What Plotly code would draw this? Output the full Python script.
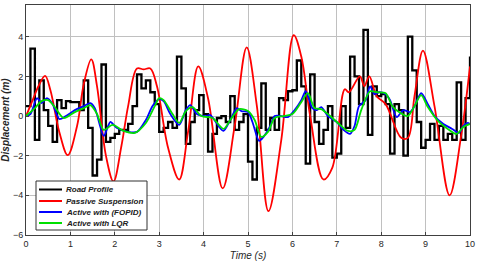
import plotly.graph_objects as go

# Road profile: step values, each held for 0.1 s
road_vals = [0.5, 3.4, -1.2, 1.8, 0.3, -0.5, -1.3, 0.8, 0.4, 0.75,
             0.7, 0.7, 0.3, 1.8, -0.6, -3.0, -2.2, 2.6, -1.3, -1.1,
             -0.9, -0.7, -0.7, -0.4, 0.5, 2.1, 1.4, 1.8, 1.2, 0.6,
             -0.8, -0.6, -0.3, -0.6, 3.0, 1.4, -1.4, -0.3, 0.3, 1.05,
             0.1, -1.8, -0.9, -0.1, 0.0, -0.3, 1.0, -0.7, -0.3, 0.1,
             -2.3, -3.2, -0.6, 1.65, -0.7, -0.1, -0.7, 0.9, 0.8, 1.25,
             1.3, 2.8, 1.5, -2.4, 2.1, -0.3, -1.4, -0.7, 0.5, -2.1,
             -1.9, 0.5, -0.6, 3.0, 2.0, 0.6, 4.35, -0.95, 1.5, 1.0,
             1.1, 0.6, -1.9, 0.6, 0.3, -2.0, 4.0, 2.3, -0.3, -1.6,
             -1.2, -0.4, -1.2, -0.5, -1.2, -0.9, -1.2, 1.7, -1.2, 0.9]
road_t = [0.1 * i for i in range(len(road_vals))] + [10.0]
road_y = road_vals + [3.0]

passive_t = [0, 0.15, 0.28, 0.43, 0.55, 0.75, 0.94, 1.15, 1.3, 1.47, 1.6, 1.8, 1.97, 2.15, 2.3, 2.5, 2.65, 2.8, 2.95, 3.2, 3.45, 3.65, 3.88, 4.1, 4.43, 4.7, 4.97, 5.2, 5.46, 5.75, 6.03, 6.2, 6.4, 6.7, 6.9, 7.18, 7.27, 7.52, 7.62, 7.73, 7.9, 8.1, 8.45, 8.6, 8.75, 8.94, 9.2, 9.54, 9.8, 10.0]
passive_y = [0, 0.8, 1.5, 2.02, 1.3, -0.8, -1.97, -0.5, 1.6, 2.86, 1.5, -2.0, -3.3, -1.5, 0.5, 2.4, 2.35, 2.4, 1.5, -1.6, -3.2, -0.8, 2.5, 0.9, -3.65, -0.5, 3.46, 0.5, -4.8, -1.2, 4.08, 3.0, 0.0, -3.2, -2.6, 1.35, 1.2, 2.0, 1.5, 2.0, 1.0, 0.6, -1.1, -1.1, 1.0, 3.3, 0.5, -4.0, -1.0, 2.5]

fopid_t = [0, 0.1, 0.25, 0.35, 0.47, 0.6, 0.75, 0.9, 1.1, 1.3, 1.45, 1.55, 1.75, 1.85, 1.9, 2.05, 2.3, 2.5, 2.7, 2.85, 3.0, 3.1, 3.25, 3.45, 3.6, 3.7, 3.85, 4.05, 4.15, 4.35, 4.45, 4.6, 4.75, 4.85, 5.0, 5.1, 5.25, 5.35, 5.5, 5.6, 5.75, 5.9, 6.05, 6.2, 6.3, 6.45, 6.55, 6.65, 6.8, 7.0, 7.15, 7.3, 7.4, 7.5, 7.65, 7.75, 7.85, 7.95, 8.1, 8.2, 8.35, 8.5, 8.65, 8.75, 8.9, 9.05, 9.2, 9.4, 9.6, 9.75, 9.85, 9.95, 10.0]
fopid_y = [0, 0.1, 0.9, 0.65, 0.9, 0.6, -0.15, 0.0, 0.3, 0.5, 0.65, 0.4, -1.0, -0.5, -0.3, -0.6, -0.8, -0.8, -0.2, 0.5, 0.85, 0.75, 0.1, -0.45, 0.3, 0.55, 0.1, 0.0, 0.05, -0.55, -0.75, -0.2, 0.4, 0.25, 0.2, -0.3, -1.25, -1.05, -0.5, 0.0, 0.0, -0.05, 0.3, 0.8, 1.25, 0.4, 0.3, 0.45, 0.0, -0.3, -0.7, -0.9, -0.5, 0.5, 0.8, 1.5, 1.1, 1.2, 1.1, 0.8, -0.05, 0.3, 0.2, 0.5, 1.15, 0.6, 0.0, -0.4, -0.65, -0.85, -0.5, -0.35, -0.4]

lqr_t = [0, 0.2, 0.35, 0.5, 0.65, 0.85, 1.1, 1.3, 1.45, 1.6, 1.75, 1.95, 2.2, 2.45, 2.7, 2.9, 3.0, 3.1, 3.3, 3.45, 3.6, 3.75, 3.95, 4.2, 4.45, 4.6, 4.8, 5.0, 5.15, 5.3, 5.45, 5.6, 5.8, 6.0, 6.2, 6.35, 6.5, 6.65, 6.85, 7.05, 7.25, 7.4, 7.55, 7.75, 7.9, 8.1, 8.25, 8.4, 8.6, 8.75, 8.9, 9.05, 9.3, 9.5, 9.7, 9.85, 10.0]
lqr_y = [0, 0.4, 0.75, 0.8, 0.45, -0.1, 0.2, 0.4, 0.55, 0.1, -0.7, -0.45, -0.75, -0.85, -0.35, 0.5, 0.9, 0.8, 0.1, -0.35, 0.25, 0.45, 0.0, -0.1, -0.65, -0.2, 0.35, 0.25, -0.2, -1.05, -0.8, -0.1, 0.0, 0.1, 0.7, 1.15, 0.4, 0.35, 0.0, -0.4, -0.75, -0.7, 0.3, 1.25, 1.2, 1.15, 0.5, 0.2, 0.0, 0.5, 1.05, 0.45, -0.3, -0.65, -0.9, -0.55, -0.4]

x_ticks = list(range(0, 11))
y_ticks = [-6, -4, -2, 0, 2, 4]

series_names = ["Road Profile", "Passive Suspension", "Active with (FOPID)", "Active with LQR"]
series_colors = ["black", "#ff0000", "#0000ff", "#00e000"]

FONT = "Liberation Sans, Arial, sans-serif"

fig = go.Figure()
fig.add_trace(go.Scatter(x=road_t, y=road_y, mode="lines", name=series_names[0],
                         line=dict(color=series_colors[0], width=2.3, shape="hv")))
fig.add_trace(go.Scatter(x=passive_t, y=passive_y, mode="lines", name=series_names[1],
                         line=dict(color=series_colors[1], width=1.8, shape="spline", smoothing=1.0)))
fig.add_trace(go.Scatter(x=fopid_t, y=fopid_y, mode="lines", name=series_names[2],
                         line=dict(color=series_colors[2], width=1.8, shape="spline", smoothing=0.8)))
fig.add_trace(go.Scatter(x=lqr_t, y=lqr_y, mode="lines", name=series_names[3],
                         line=dict(color=series_colors[3], width=1.8, shape="spline", smoothing=0.8)))

axis_common = dict(showgrid=True, gridcolor="#c0c0c0", gridwidth=1, zeroline=False,
                   showline=True, linecolor="#404040", linewidth=1, mirror=True,
                   ticks="inside", ticklen=3, tickcolor="#404040", automargin=False,
                   tickfont=dict(family=FONT, size=9, color="#262626"))

# Compact legend box (drawn as layout shapes/annotations, paper coordinates)
L, W, T, H = 26, 444, 5, 230  # plot area in pixels
def px(xp): return (xp - L) / W
def py(yp): return (T + H - yp) / H

shapes = [dict(type="rect", xref="paper", yref="paper",
               x0=px(36), x1=px(147), y0=py(230), y1=py(181),
               fillcolor="white", line=dict(color="#303030", width=1), layer="above")]
annotations = []
rows = [189.5, 201, 212, 223]
for name, color, ry in zip(series_names, series_colors, rows):
    shapes.append(dict(type="line", xref="paper", yref="paper",
                       x0=px(39), x1=px(62), y0=py(ry), y1=py(ry),
                       line=dict(color=color, width=2), layer="above"))
    annotations.append(dict(xref="paper", yref="paper", x=px(63.5), y=py(ry),
                            xanchor="left", yanchor="middle", showarrow=False,
                            text="<b><i>" + name + "</i></b>",
                            font=dict(family=FONT, size=8, color="#202020")))

fig.update_layout(
    width=480, height=270,
    margin=dict(l=L, r=480 - L - W, t=T, b=270 - T - H),
    paper_bgcolor="white", plot_bgcolor="white",
    xaxis=dict(range=[0, 10], tickvals=x_ticks,
               title=dict(text="<i>Time (s)</i>", standoff=4,
                          font=dict(family=FONT, size=10, color="#262626")),
               **axis_common),
    yaxis=dict(range=[-6, 5.6], tickvals=y_ticks,
               title=dict(text="<b><i>Displacement (m)</i></b>", standoff=2,
                          font=dict(family=FONT, size=10, color="#262626")),
               **axis_common),
    showlegend=False,
    hovermode=False,
    shapes=shapes,
    annotations=annotations,
)

fig.write_html("out.html", config={"displayModeBar": False, "staticPlot": True},
               post_script="document.body.style.margin='0';document.body.style.overflow='hidden';")
